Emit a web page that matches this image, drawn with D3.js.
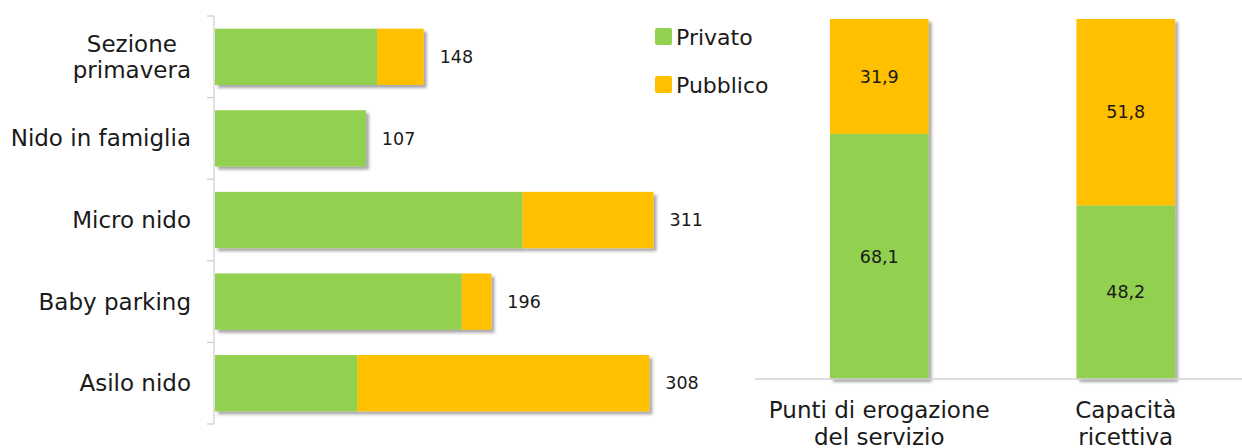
<!DOCTYPE html>
<html><head><meta charset="utf-8">
<script src="https://cdn.jsdelivr.net/npm/d3@7"></script>
<style>
html,body{margin:0;padding:0;background:#fff;}
text{font-family:"DejaVu Sans",sans-serif;fill:#1a1a1a;}
</style></head>
<body>
<svg id="c" width="1242" height="448"></svg>
<script>
const categories = ["Sezione primavera", "Nido in famiglia", "Micro nido", "Baby parking", "Asilo nido"];
const privato = [115, 107, 218, 175, 101];
const pubblico = [33, 0, 93, 21, 207];
const totals = [148, 107, 311, 196, 308];

const groups = ["Punti di erogazione del servizio", "Capacità ricettiva"];
const groupLines = [["Punti di erogazione", "del servizio"], ["Capacità", "ricettiva"]];
const privatoPct = [68.1, 48.2];
const pubblicoPct = [31.9, 51.8];
const pctLabels = {privato: ["68,1", "48,2"], pubblico: ["31,9", "51,8"]};

const series = ["Privato", "Pubblico"];
const colors = ["#92D050", "#FFC000"];

const svg = d3.select("#c");
const defs = svg.append("defs");
const f = defs.append("filter").attr("id","sh").attr("x","-10%").attr("y","-10%").attr("width","130%").attr("height","130%");
f.append("feDropShadow").attr("dx",3).attr("dy",3).attr("stdDeviation",1.6).attr("flood-color","#000").attr("flood-opacity",0.35);

// ---- Left chart ----
const x = d3.scaleLinear().domain([0, 350]).range([215, 215 + 350 * 1.41]);
const y = d3.scaleBand().domain(categories).range([16, 424]).paddingInner(0.31).paddingOuter(0.155);

const left = svg.append("g");
const ax = left.append("g").attr("stroke","#d0d0d0").attr("stroke-width",1.3);
ax.append("line").attr("x1",214).attr("x2",214).attr("y1",16).attr("y2",424);
const bounds = categories.map(c => y(c) - y.step()*y.paddingInner()/2).concat([424]);
ax.selectAll("line.t").data(bounds).join("line").attr("class","t")
  .attr("x1",207).attr("x2",214).attr("y1",d=>d).attr("y2",d=>d);

const stackData = categories.map((c,i)=>({c, p:privato[i], q:pubblico[i], t:totals[i]}));
const bars = left.selectAll("g.bar").data(stackData).join("g").attr("class","bar").attr("filter","url(#sh)");
bars.append("rect").attr("x",x(0)).attr("y",d=>y(d.c)).attr("height",y.bandwidth())
  .attr("width",d=>x(d.p)-x(0)).attr("fill",colors[0]);
bars.filter(d=>d.q>0).append("rect").attr("x",d=>x(d.p)).attr("y",d=>y(d.c)).attr("height",y.bandwidth())
  .attr("width",d=>x(d.p+d.q)-x(d.p)).attr("fill",colors[1]);

left.selectAll("text.val").data(stackData).join("text").attr("class","val")
  .attr("x",d=>x(d.t)+16).attr("y",d=>y(d.c)+y.bandwidth()/2).attr("dy","0.35em")
  .attr("font-size",17.5).text(d=>d.t);

const catLines = [["Sezione","primavera"],["Nido in famiglia"],["Micro nido"],["Baby parking"],["Asilo nido"]];
categories.forEach((c,i)=>{
  const cy = y(c)+y.bandwidth()/2;
  const lines = catLines[i];
  const g = left.append("g");
  const ts = lines.map((l,j)=> g.append("text").attr("font-size",23).attr("text-anchor","middle")
     .attr("y", cy + (j-(lines.length-1)/2)*26).attr("dy","0.35em").text(l));
  const w = d3.max(ts, t=>t.node().getComputedTextLength());
  ts.forEach(t=>t.attr("x", 191 - w/2));
});

// ---- Legend ----
const lg = svg.append("g");
series.forEach((s,i)=>{
  const yy = 37 + i*48;
  lg.append("rect").attr("x",655).attr("y",yy-9).attr("width",17).attr("height",17).attr("rx",2).attr("fill",colors[i]);
  lg.append("text").attr("x",676).attr("y",yy).attr("dy","0.35em").attr("font-size",22).text(s);
});

// ---- Right chart ----
const xr = d3.scaleBand().domain(groups).range([756, 1249]).paddingInner(0.6).paddingOuter(0.3);
const yr = d3.scaleLinear().domain([0,100]).range([379, 19]);
const right = svg.append("g");
const rd = groups.map((g,i)=>({g, p:privatoPct[i], q:pubblicoPct[i], i}));
const rb = right.selectAll("g.rb").data(rd).join("g").attr("filter","url(#sh)");
rb.append("rect").attr("x",d=>xr(d.g)).attr("width",xr.bandwidth())
  .attr("y",d=>yr(d.p)).attr("height",d=>yr(0)-yr(d.p)).attr("fill",colors[0]);
rb.append("rect").attr("x",d=>xr(d.g)).attr("width",xr.bandwidth())
  .attr("y",d=>yr(d.p+d.q)).attr("height",d=>yr(d.p)-yr(d.p+d.q)).attr("fill",colors[1]);
right.append("line").attr("x1",755).attr("x2",1242).attr("y1",379).attr("y2",379)
  .attr("stroke","#d0d0d0").attr("stroke-width",1.3);
rd.forEach(d=>{
  const cx = xr(d.g)+xr.bandwidth()/2;
  right.append("text").attr("x",cx).attr("y",(yr(0)+yr(d.p))/2).attr("dy","0.35em")
    .attr("text-anchor","middle").attr("font-size",17.5).text(pctLabels.privato[d.i]);
  right.append("text").attr("x",cx).attr("y",(yr(d.p)+yr(d.p+d.q))/2).attr("dy","0.35em")
    .attr("text-anchor","middle").attr("font-size",17.5).text(pctLabels.pubblico[d.i]);
  groupLines[d.i].forEach((l,j)=>{
    right.append("text").attr("x",cx).attr("y",410 + j*27).attr("dy","0.35em")
      .attr("text-anchor","middle").attr("font-size",23).text(l);
  });
});
</script>
</body></html>
